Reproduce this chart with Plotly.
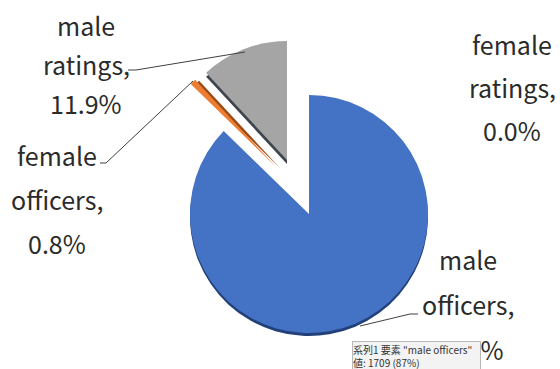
import plotly.graph_objects as go

# Crew composition (head counts)
categories = ["male officers", "female officers", "male ratings", "female ratings"]
counts = [1709, 16, 233, 0]
series_name = "系列1"

W, H = 560, 369
total = sum(counts)
pcts = [c / total * 100 for c in counts]

fill_colors = ["#4472C4", "#ED7D31", "#A5A5A5", "#FFC000"]
side_colors = ["#22407a", "#9a4a16", "#3f454d", "#8a6a00"]
CLEAR = "rgba(0,0,0,0)"

# pie geometry in pixels: centre of each exploded part and its radius
R = 119
centres = {
    0: (309, 214),   # male officers (not exploded)
    1: (276, 167),   # female officers (exploded)
    2: (287, 160),   # male ratings (exploded)
    3: (287, 160),
}
side_shift = {0: (0, 3), 1: (4, 1), 2: (0, 4), 3: (0, 4)}


def domain_for(cx, cy, r):
    return dict(x=[(cx - r) / W, (cx + r) / W],
                y=[1 - (cy + r) / H, 1 - (cy - r) / H])


def slice_trace(idx, colour_list, dx=0, dy=0):
    cx, cy = centres[idx]
    cols = [colour_list[i] if i == idx else CLEAR for i in range(len(counts))]
    return go.Pie(
        labels=categories, values=counts, sort=False, direction="clockwise",
        rotation=0, textinfo="none", hoverinfo="skip", showlegend=False,
        marker=dict(colors=cols, line=dict(width=0)),
        domain=domain_for(cx + dx, cy + dy, R),
    )


fig = go.Figure()
# extruded side faces first, then the top faces
for i in range(3):
    dx, dy = side_shift[i]
    fig.add_trace(slice_trace(i, side_colors, dx, dy))
for i in range(3):
    fig.add_trace(slice_trace(i, fill_colors))


def px(x, y):
    return x / W, 1 - y / H


# data label placement: (centre x, first line y, line spacing)
label_pos = {
    0: (468, 259, 45),
    1: (57, 155, 44),
    2: (86, 25, 39),
    3: (512, 44, 43),
}

annotations = []
label_font = dict(family="Noto Sans CJK JP, Noto Sans, sans-serif", size=25, color="#2b2b2b")
for i, name in enumerate(categories):
    words = name.split()
    lines = [words[0], words[1] + ",", f"{pcts[i]:.1f}%"]
    cx, y0, step = label_pos[i]
    for k, line in enumerate(lines):
        x, y = px(cx, y0 + k * step)
        annotations.append(dict(x=x, y=y, xref="paper", yref="paper", text=line,
                                showarrow=False, xanchor="center", yanchor="middle",
                                font=label_font))

# leader lines from labels to slices
leaders = [
    [(418, 314), (410, 314), (360, 326)],
    [(100, 163), (106, 163), (193, 81)],
    [(128, 70), (136, 70), (245, 52)],
]
shapes = []
for pts in leaders:
    path = "M " + " L ".join(f"{px(x, y)[0]},{px(x, y)[1]}" for x, y in pts)
    shapes.append(dict(type="path", path=path, xref="paper", yref="paper",
                       line=dict(color="#404040", width=1)))

# hover tip box over the largest slice
top = counts.index(max(counts))
tip = (f'{series_name} 要素 "{categories[top]}"<br>'
       f'値: {counts[top]} ({pcts[top]:.0f}%)')
tx, ty = px(352, 341)
annotations.append(dict(x=tx, y=ty, xref="paper", yref="paper", text=tip,
                        showarrow=False, xanchor="left", yanchor="top", align="left",
                        valign="top", width=127, height=34,
                        font=dict(family="Noto Sans CJK JP, sans-serif", size=10, color="#333333"),
                        bgcolor="#f3f3f3", bordercolor="#b8b8b8", borderwidth=1, borderpad=0))

fig.update_layout(
    width=W, height=H, margin=dict(l=0, r=0, t=0, b=0),
    paper_bgcolor="white", plot_bgcolor="white",
    annotations=annotations, shapes=shapes, showlegend=False,
)

fig.write_html("out.html")
